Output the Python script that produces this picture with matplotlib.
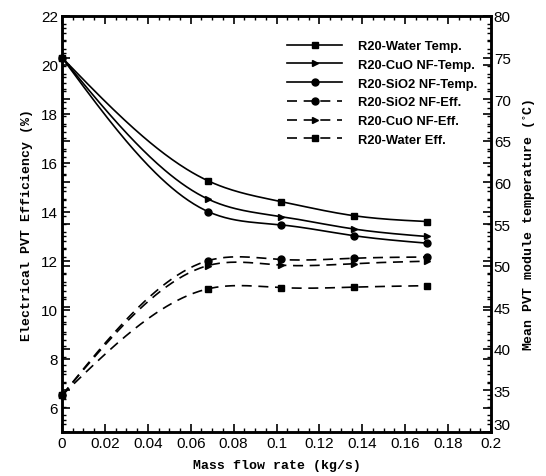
import matplotlib

matplotlib.use("Agg")
import matplotlib.pyplot as plt
from matplotlib.lines import Line2D
from matplotlib.ticker import MultipleLocator
import numpy as np

# mass flow rate (kg/s)
flow = [0.0, 0.068, 0.102, 0.136, 0.17]

# mean PVT module temperature (degC), right axis
temp_water = [75.0, 60.2, 57.7, 56.0, 55.3]
temp_cuo = [75.0, 58.0, 55.9, 54.4, 53.5]
temp_sio2 = [75.0, 56.5, 54.9, 53.6, 52.7]

# electrical PVT efficiency (%), left axis
eff_sio2 = [6.5, 12.0, 12.05, 12.1, 12.15]
eff_cuo = [6.5, 11.8, 11.82, 11.88, 11.98]
eff_water = [6.5, 10.85, 10.9, 10.92, 10.98]


def spline_curve(x, y, n=200):
    """Natural cubic spline through the points, for drawing smooth lines."""
    x = np.asarray(x, float)
    y = np.asarray(y, float)
    h = np.diff(x)
    m = len(x)
    a = np.zeros((m, m))
    b = np.zeros(m)
    a[0, 0] = a[-1, -1] = 1.0
    for i in range(1, m - 1):
        a[i, i - 1] = h[i - 1]
        a[i, i] = 2 * (h[i - 1] + h[i])
        a[i, i + 1] = h[i]
        b[i] = 6 * ((y[i + 1] - y[i]) / h[i] - (y[i] - y[i - 1]) / h[i - 1])
    mm = np.linalg.solve(a, b)
    xs = np.linspace(x[0], x[-1], n)
    idx = np.clip(np.searchsorted(x, xs) - 1, 0, m - 2)
    x0, x1 = x[idx], x[idx + 1]
    hh = x1 - x0
    t0, t1 = x1 - xs, xs - x0
    ys = (
        mm[idx] * t0**3 / (6 * hh)
        + mm[idx + 1] * t1**3 / (6 * hh)
        + (y[idx] / hh - mm[idx] * hh / 6) * t0
        + (y[idx + 1] / hh - mm[idx + 1] * hh / 6) * t1
    )
    return xs, ys


tick_font = {"family": "Liberation Sans", "size": 11}
label_font = {"family": "Liberation Mono", "weight": "bold", "size": 9.5}
dash = (6, 4)
lw = 1.2
ms = 5

fig = plt.figure(figsize=(5.46, 4.77), dpi=100)
ax1 = fig.add_axes([0.1136, 0.0922, 0.7857, 0.8722])
ax2 = ax1.twinx()

series_temp = [
    (temp_water, "s", "R20-Water Temp."),
    (temp_cuo, ">", "R20-CuO NF-Temp."),
    (temp_sio2, "o", "R20-SiO2 NF-Temp."),
]
series_eff = [
    (eff_sio2, "o", "R20-SiO2 NF-Eff."),
    (eff_cuo, ">", "R20-CuO NF-Eff."),
    (eff_water, "s", "R20-Water Eff."),
]

handles = []
for values, marker, label in series_temp:
    xs, ys = spline_curve(flow, values)
    ax2.plot(xs, ys, color="black", lw=lw)
    ax2.plot(flow, values, ls="none", marker=marker, color="black",
             ms=ms, clip_on=False)
    handles.append(Line2D([], [], color="black", lw=lw, marker=marker,
                          ms=ms, label=label))
for values, marker, label in series_eff:
    xs, ys = spline_curve(flow, values)
    ax1.plot(xs, ys, color="black", lw=lw, ls=(0, dash))
    ax1.plot(flow, values, ls="none", marker=marker, color="black",
             ms=ms, clip_on=False)
    handles.append(Line2D([], [], color="black", lw=lw, ls=(0, dash),
                          marker=marker, ms=ms, label=label))

ax1.set_xlim(0, 0.2)
ax1.set_ylim(5, 22)
ax2.set_ylim(30, 80)

ax1.xaxis.set_major_locator(MultipleLocator(0.02))
ax1.xaxis.set_minor_locator(MultipleLocator(0.005))
ax1.yaxis.set_major_locator(MultipleLocator(2))
ax1.yaxis.set_minor_locator(MultipleLocator(0.5))
ax2.yaxis.set_major_locator(MultipleLocator(5))
ax2.yaxis.set_minor_locator(MultipleLocator(1))

ax1.set_xticks(np.arange(0, 0.201, 0.02))
ax1.set_xticklabels(["0", "0.02", "0.04", "0.06", "0.08", "0.1", "0.12",
                     "0.14", "0.16", "0.18", "0.2"], fontdict=tick_font)
ax1.set_yticks(np.arange(6, 22.1, 2))
ax1.set_yticklabels([str(v) for v in range(6, 23, 2)], fontdict=tick_font)
ax2.set_yticks(np.arange(30, 81, 5))
ax2.set_yticklabels([str(v) for v in range(30, 81, 5)], fontdict=tick_font)
# the bottom "30" sits a little higher, clear of the "0.2" below it
ax2.get_yticklabels()[0].set_verticalalignment("bottom")

# both scales put their ticks on both vertical spines
ax1.tick_params(axis="x", which="both", direction="in", top=True,
                bottom=True, pad=3)
ax1.tick_params(axis="y", which="both", direction="in", left=True,
                right=True, labelleft=True, labelright=False, pad=3)
ax2.tick_params(axis="y", which="both", direction="in", right=True,
                left=True, labelright=True, labelleft=False, pad=2)
for ax in (ax1, ax2):
    ax.tick_params(which="major", length=6, width=1.2)
    ax.tick_params(which="minor", length=3, width=1.0)
    for spine in ax.spines.values():
        spine.set_linewidth(1.8)

ax1.set_xlabel("Mass flow rate (kg/s)", fontdict=label_font, labelpad=6)
ax1.set_ylabel("Electrical PVT Efficiency (%)", fontdict=label_font,
               labelpad=6)
ax2.set_ylabel("Mean PVT module temperature ($^{\\circ}$C)",
               fontdict=label_font, labelpad=8)

ax1.legend(handles=handles, loc="upper right", frameon=False,
           bbox_to_anchor=(0.995, 0.97), numpoints=1, handlelength=4.3,
           handletextpad=1.2, labelspacing=0.52,
           prop={"family": "Liberation Sans", "weight": "bold", "size": 9.3})

fig.savefig("out.png", dpi=100)
